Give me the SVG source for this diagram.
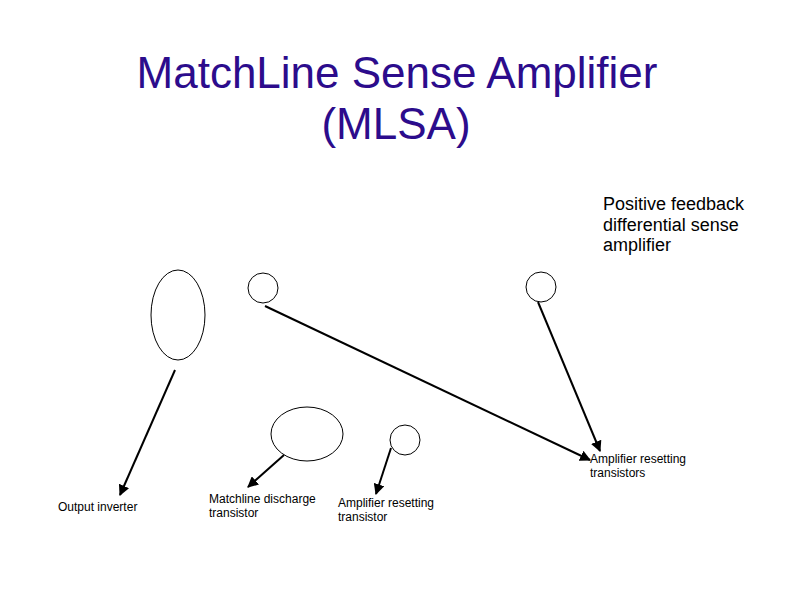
<svg xmlns="http://www.w3.org/2000/svg" width="792" height="612" viewBox="0 0 792 612">
<style>
.title{font-family:"Liberation Sans",Arial,sans-serif;font-size:44px;fill:#2C0C8C;text-anchor:middle}
.lbl{font-family:"Liberation Sans",Arial,sans-serif;font-size:12px;fill:#000}
.big{font-family:"Liberation Sans",Arial,sans-serif;font-size:18px;fill:#000}
.shape{fill:none;stroke:#000;stroke-width:1}
.conn{stroke:#000;stroke-width:2;fill:none;marker-end:url(#arr)}
</style>
<defs>
<marker id="arr" viewBox="0 0 10 10" refX="9" refY="5" markerWidth="5.5" markerHeight="5.5" orient="auto" markerUnits="strokeWidth">
<path d="M0,0 L10,5 L0,10 z" fill="#000"/>
</marker>
</defs>
<rect width="792" height="612" fill="#fff"/>
<g id="title">
<text class="title" x="397" y="88">MatchLine Sense Amplifier</text>
<text class="title" x="396" y="139">(MLSA)</text>
</g>
<g id="label-positive-feedback">
<text class="big" x="603" y="210">Positive feedback</text>
<text class="big" x="603" y="231">differential sense</text>
<text class="big" x="603" y="251">amplifier</text>
</g>
<g id="ellipse-output-inverter"><ellipse class="shape" cx="178" cy="315" rx="27" ry="45"/></g>
<g id="circle-left"><circle class="shape" cx="263" cy="288" r="15"/></g>
<g id="circle-right"><circle class="shape" cx="541" cy="287" r="15"/></g>
<g id="ellipse-discharge"><ellipse class="shape" cx="307" cy="434" rx="36" ry="27"/></g>
<g id="circle-reset"><circle class="shape" cx="405" cy="440" r="15"/></g>
<g id="label-output-inverter"><text class="lbl" x="58" y="511">Output inverter</text></g>
<g id="label-matchline-discharge"><text class="lbl" x="209" y="503">Matchline discharge</text><text class="lbl" x="209" y="517">transistor</text></g>
<g id="label-amp-reset-transistor"><text class="lbl" x="338" y="507">Amplifier resetting</text><text class="lbl" x="338" y="521">transistor</text></g>
<g id="label-amp-reset-transistors"><text class="lbl" x="590" y="463">Amplifier resetting</text><text class="lbl" x="590" y="477">transistors</text></g>
<g id="connectors">
<line class="conn" x1="175" y1="370" x2="120" y2="495"/>
<line class="conn" x1="265" y1="306" x2="590" y2="460"/>
<line class="conn" x1="538" y1="302" x2="600" y2="451"/>
<line class="conn" x1="284" y1="455" x2="248" y2="487"/>
<line class="conn" x1="391" y1="448" x2="376" y2="494"/>
</g>
</svg>
